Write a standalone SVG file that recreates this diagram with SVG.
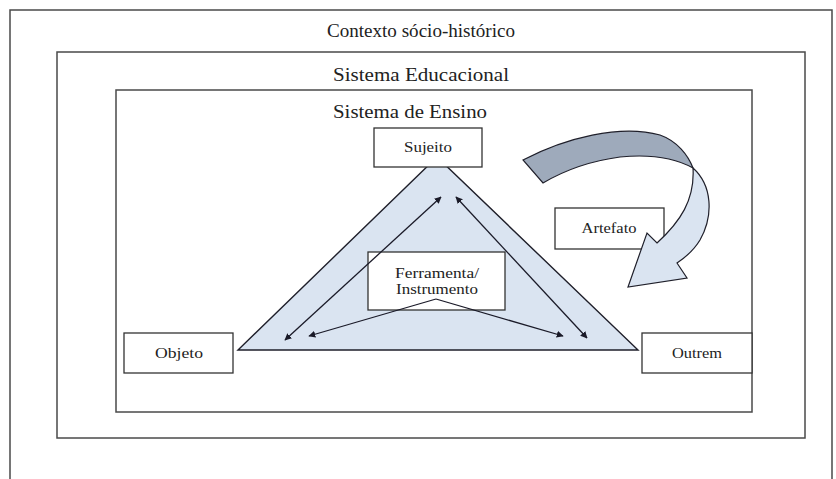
<svg xmlns="http://www.w3.org/2000/svg" width="836" height="479" viewBox="0 0 836 479">
<style>
.box{fill:none;stroke:#4a4a4a;stroke-width:1.5}
.node{fill:#ffffff;stroke:#333333;stroke-width:1.3}
.t{font-family:"Liberation Serif","Times New Roman",serif;fill:#222;text-anchor:middle}
.big{font-size:18px}
.sm{font-size:15px}
.con{fill:none;stroke:#1a1a28;stroke-width:1.3}
</style>
<defs>
<marker id="ah" viewBox="0 0 10 10" refX="9" refY="5" markerWidth="7" markerHeight="7" markerUnits="userSpaceOnUse" orient="auto-start-reverse">
<path d="M0,0 L10,5 L0,10 Z" fill="#1a1a28"/>
</marker>
</defs>
<rect width="836" height="479" fill="#ffffff"/>
<g id="contexto">
<path class="box" d="M10,479 L10,10 L832,10 L832,479"/>
<text class="t big" x="421" y="37" textLength="188" lengthAdjust="spacingAndGlyphs">Contexto sócio-histórico</text>
</g>
<g id="sistema-educacional">
<rect class="box" x="57" y="52" width="748" height="386"/>
<text class="t big" x="421" y="81" textLength="176" lengthAdjust="spacingAndGlyphs">Sistema Educacional</text>
</g>
<g id="sistema-ensino">
<rect class="box" x="116" y="90" width="636" height="322"/>
<text class="t big" x="410" y="118" textLength="154" lengthAdjust="spacingAndGlyphs">Sistema de Ensino</text>
</g>
<g id="triangulo">
<polygon points="437,157 238,350 638,350" fill="#dae4f1" stroke="#1f1f2a" stroke-width="1.4"/>
</g>
<g id="sujeito">
<rect class="node" x="374" y="128" width="108" height="39"/>
<text class="t sm" x="428" y="152" textLength="48" lengthAdjust="spacingAndGlyphs">Sujeito</text>
</g>
<g id="objeto">
<rect class="node" x="124" y="333" width="109" height="40"/>
<text class="t sm" x="179" y="358" textLength="48" lengthAdjust="spacingAndGlyphs">Objeto</text>
</g>
<g id="outrem">
<rect class="node" x="642" y="333" width="110" height="40"/>
<text class="t sm" x="697" y="358" textLength="50" lengthAdjust="spacingAndGlyphs">Outrem</text>
</g>
<g id="ferramenta">
<rect class="node" x="368" y="252" width="137" height="58"/>
<text class="t sm" x="437" y="278" textLength="84" lengthAdjust="spacingAndGlyphs">Ferramenta/</text>
<text class="t sm" x="437" y="294" textLength="82" lengthAdjust="spacingAndGlyphs">Instrumento</text>
</g>
<g id="artefato">
<rect class="node" x="555" y="208" width="109" height="41"/>
<text class="t sm" x="609" y="233" textLength="55" lengthAdjust="spacingAndGlyphs">Artefato</text>
</g>
<g id="seta-artefato">
<path d="M693,168 C712,185 714,215 700,240 C694,250 686,257 677,263 L687,278 L628,287 L647,233 L657,243 C680,222 695,200 693,168 Z" fill="#dae4f1" stroke="#1f1f2a" stroke-width="1.2" stroke-linejoin="miter"/>
<path d="M523,160 C565,138 620,124 660,135 C677,141 688,155 693,168 C675,158 650,154 620,157 C590,161 565,170 543,183 Z" fill="#9eaabb" stroke="#1f1f2a" stroke-width="1.2"/>
</g>
<g id="conectores">
<line class="con" x1="441" y1="197" x2="285" y2="340" marker-start="url(#ah)" marker-end="url(#ah)"/>
<line class="con" x1="456" y1="197" x2="587" y2="338" marker-start="url(#ah)" marker-end="url(#ah)"/>
<line class="con" x1="436" y1="299" x2="309" y2="336" marker-end="url(#ah)"/>
<line class="con" x1="436" y1="299" x2="563" y2="336" marker-end="url(#ah)"/>
</g>
</svg>
